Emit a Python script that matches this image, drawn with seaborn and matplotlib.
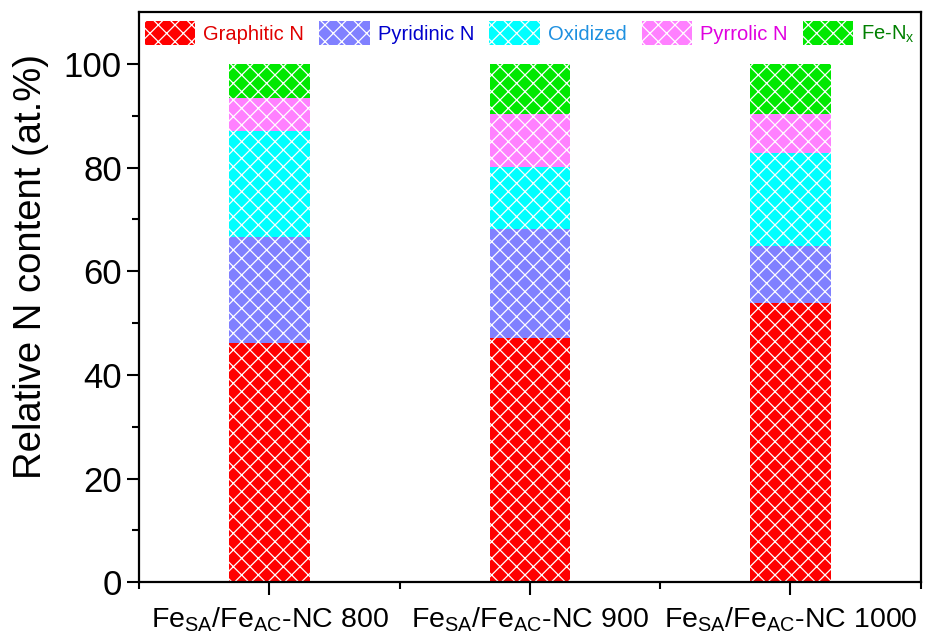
import numpy as np
import pandas as pd
import matplotlib
matplotlib.use("Agg")
import matplotlib.pyplot as plt
import seaborn as sns

# data (at.%)
samples = [r"Fe$_{SA}$/Fe$_{AC}$-NC 800", r"Fe$_{SA}$/Fe$_{AC}$-NC 900", r"Fe$_{SA}$/Fe$_{AC}$-NC 1000"]
species = ["Graphitic N", "Pyridinic N", "Oxidized", "Pyrrolic N", r"Fe-N$_x$"]
graphitic = [46.2, 47.2, 53.9]
pyridinic = [20.5, 21.0, 11.0]
oxidized = [20.4, 12.0, 18.0]
pyrrolic = [6.3, 10.2, 7.5]
fenx = [6.6, 9.6, 9.6]

fill_colors = ["#FF0000", "#8080FF", "#00FFFF", "#FF80FF", "#00E800"]
text_colors = ["#E00000", "#0000CC", "#1E90E0", "#E000E0", "#008000"]

sns.set_style("ticks")
plt.rcParams["font.family"] = ["Liberation Sans", "DejaVu Sans"]
plt.rcParams["mathtext.default"] = "regular"
plt.rcParams["hatch.linewidth"] = 0.9
for k in ["text.color", "axes.labelcolor", "xtick.color", "ytick.color", "axes.edgecolor"]:
    plt.rcParams[k] = "black"

df = pd.DataFrame({"sample": samples, "Graphitic N": graphitic, "Pyridinic N": pyridinic,
                   "Oxidized": oxidized, "Pyrrolic N": pyrrolic, r"Fe-N$_x$": fenx})

fig, ax = plt.subplots(figsize=(9.28, 6.44), dpi=100)
fig.subplots_adjust(left=0.150, right=0.992, bottom=0.096, top=0.981)

bottom = np.zeros(len(samples))
for sp, fc in zip(species, fill_colors):
    sns.barplot(data=df, x="sample", y=sp, bottom=bottom, color=fc, saturation=1,
                width=0.31, label=sp, hatch="xx", edgecolor="white", linewidth=0, ax=ax)
    bottom += df[sp].values

ax.set_xlim(-0.5, 2.5)
ax.set_ylim(0, 110)
ax.set_yticks([0, 20, 40, 60, 80, 100])
ax.set_yticks(np.arange(10, 110, 20), minor=True)
ax.set_xticks([-0.5, 0.5, 1.5, 2.5], minor=True)
ax.set_xlabel("")
ax.set_ylabel("Relative N content (at.%)", fontsize=27.5)
ax.yaxis.set_label_coords(-0.116, 0.554)
ax.tick_params(axis="y", which="major", labelsize=25, length=9, width=1.5, direction="out")
ax.tick_params(axis="x", which="major", labelsize=20.5, length=9, width=1.5, direction="out", pad=8)
ax.tick_params(which="minor", length=5, width=1.5, direction="out")
for s in ax.spines.values():
    s.set_linewidth(1.6)
    s.set_visible(True)

leg = ax.legend(loc="upper center", ncol=5, frameon=False, fontsize=14.5,
                handlelength=2.5, handleheight=1.4, columnspacing=0.75, handletextpad=0.4,
                bbox_to_anchor=(0.5, 1.005), borderaxespad=0.2)
for t, c in zip(leg.get_texts(), text_colors):
    t.set_color(c)

fig.savefig("out.png", dpi=100)
